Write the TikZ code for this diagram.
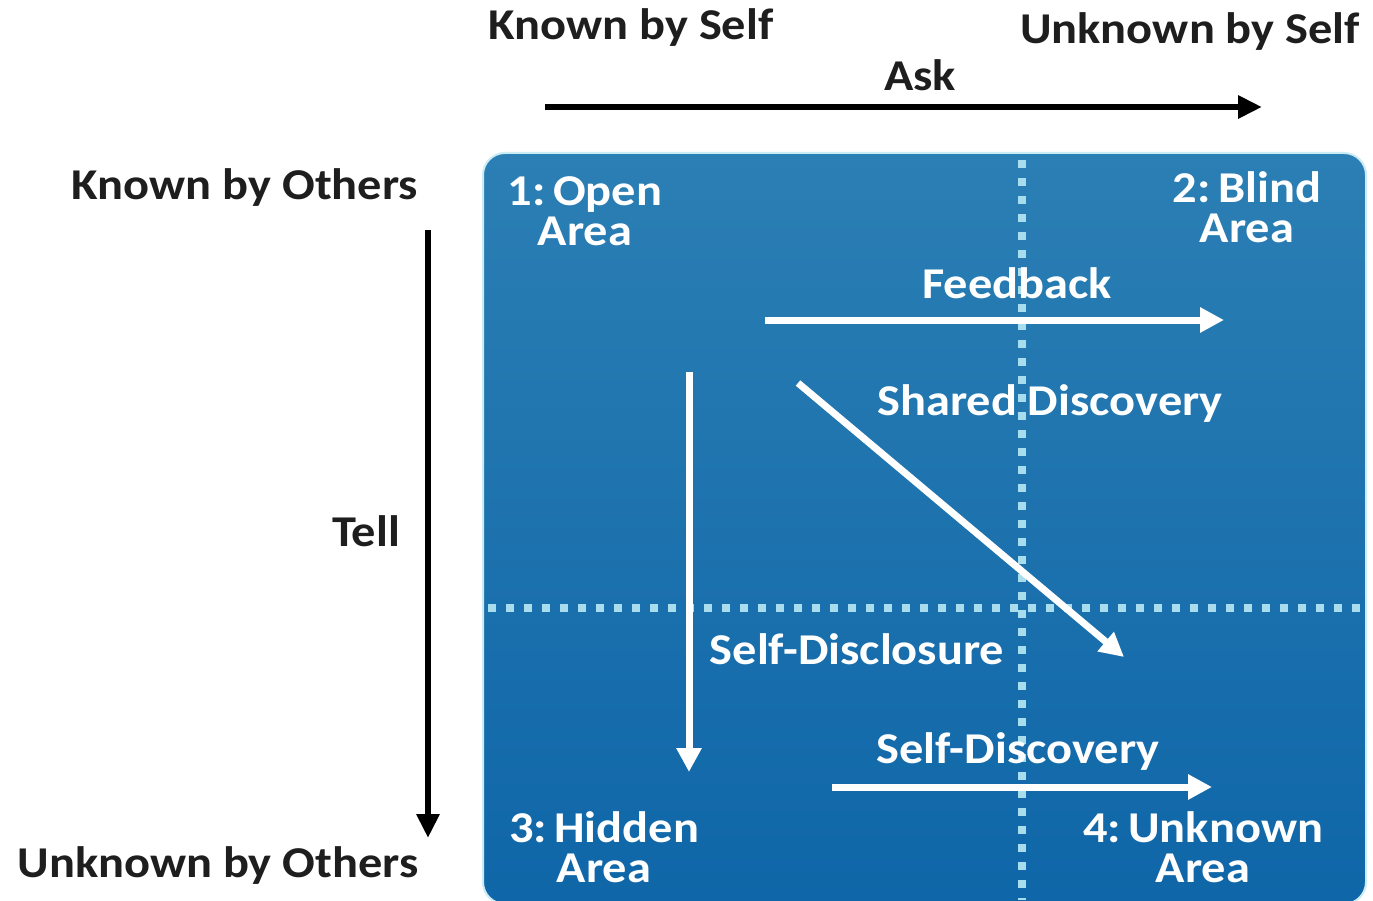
\documentclass[tikz,border=0pt]{standalone}
\usepackage{fontspec}
\setmainfont{Carlito}[FakeStretch=1.1]
\usetikzlibrary{arrows.meta}
\definecolor{boxtop}{HTML}{2B7FB4}
\definecolor{boxbot}{HTML}{0F66A8}
\definecolor{dotcol}{HTML}{A8DDEE}
\definecolor{ink}{HTML}{1E1E1E}
\tikzset{
  outlabel/.style={font=\fontsize{44}{48}\selectfont\bfseries, text=ink, inner sep=0pt},
  inlabel/.style={font=\fontsize{44}{40}\selectfont\bfseries, text=white, inner sep=0pt, align=center},
  axisarrow/.style={draw=black, line width=6pt, -{Triangle[length=24pt,width=22pt]}},
  flowarrow/.style={draw=white, line width=7pt, -{Triangle[length=24pt,width=24pt]}},
  dotline/.style={draw=dotcol, line width=8pt, dash pattern=on 8pt off 10pt},
}
\begin{document}
\begin{tikzpicture}[x=1pt,y=-1pt]
  \useasboundingbox[fill=white] (0,0) rectangle (1373,901);

  % window panel
  \shade[top color=boxtop, bottom color=boxbot, rounded corners=22pt]
    (483,153) rectangle (1366,904);
  \draw[draw=dotcol!60, line width=2pt, rounded corners=22pt]
    (483,153) rectangle (1366,904);

  % quadrant dividers
  \draw[dotline] (1022,160) -- (1022,900);
  \draw[dotline] (488,608) -- (1366,608);

  % axis labels
  \node[outlabel] (kself) at (631,28) {Known by Self};
  \node[outlabel] (uself) at (1190,32) {Unknown by Self};
  \node[outlabel] (ask) at (920,75) {Ask};
  \node[outlabel] (kothers) at (245,188) {Known by Others};
  \node[outlabel] (tell) at (366,531) {Tell};
  \node[outlabel] (uothers) at (218,866) {Unknown by Others};

  \coordinate (askA) at (545,107);
  \coordinate (askB) at (1262,107);
  \draw[axisarrow] (askA) -- (askB);
  \coordinate (tellA) at (428,230);
  \coordinate (tellB) at (428,838);
  \draw[axisarrow] (tellA) -- (tellB);

  % quadrant names
  \node[inlabel] (open) at (585,211) {1:\,Open\\Area};
  \node[inlabel] (blind) at (1247,207) {2:\,Blind\\Area};
  \node[inlabel] (hidden) at (604,847) {3:\,Hidden\\Area};
  \node[inlabel] (unknown) at (1203,847) {4:\,Unknown\\Area};

  % movements between quadrants
  \node[inlabel] (feedback) at (1017,283) {Feedback};
  \node[inlabel] (shared) at (1050,404) {Shared Discovery};
  \node[inlabel] (disclosure) at (857,649) {Self-Disclosure};
  \node[inlabel] (discovery) at (1018,752) {Self-Discovery};

  \coordinate (fbA) at (765,320);
  \coordinate (fbB) at (1224,320);
  \draw[flowarrow] (fbA) -- (fbB);
  \coordinate (shA) at (798,383);
  \coordinate (shB) at (1124,657);
  \draw[flowarrow] (shA) -- (shB);
  \coordinate (sdA) at (689,372);
  \coordinate (sdB) at (689,772);
  \draw[flowarrow] (sdA) -- (sdB);
  \coordinate (dvA) at (832,787);
  \coordinate (dvB) at (1212,787);
  \draw[flowarrow] (dvA) -- (dvB);
\end{tikzpicture}
\end{document}
